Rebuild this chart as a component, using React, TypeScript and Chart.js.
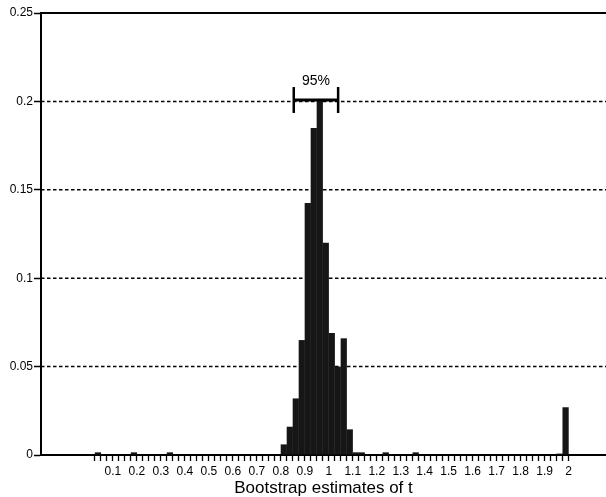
import React, { useEffect, useRef } from 'react';
import { Chart, registerables } from 'chart.js';

Chart.register(...registerables);

// Histogram bins: width 0.025, starting at 0
const binStart = 0;
const binWidth = 0.025;
const frequencies = [
  0, 0.0015, 0, 0, 0, 0, 0, 0.0015, 0, 0, // 0.000 - 0.250
  0, 0, 0, 0.0015, 0, 0, 0, 0, 0, 0, // 0.250 - 0.500
  0, 0, 0, 0, 0, 0, 0, 0, 0, 0, // 0.500 - 0.750
  0, 0, 0.006, 0.016, 0.032, 0.065, 0.1425, 0.185, 0.201, 0.12, // 0.750 - 1.000
  0.069, 0.05, 0.066, 0.0145, 0.0015, 0.0015, 0, 0, 0, 0.0015, // 1.000 - 1.250
  0, 0, 0, 0, 0.0015, 0, 0, 0, 0, 0, // 1.250 - 1.500
  0, 0, 0, 0, 0, 0, 0, 0, 0, 0, // 1.500 - 1.750
  0, 0, 0, 0, 0, 0, 0, 0, 0.0008, 0.027, // 1.750 - 2.000
];

const xTickLabels = ['0.1', '0.2', '0.3', '0.4', '0.5', '0.6', '0.7', '0.8', '0.9', '1',
  '1.1', '1.2', '1.3', '1.4', '1.5', '1.6', '1.7', '1.8', '1.9', '2'];
const yTickValues = [0, 0.05, 0.1, 0.15, 0.2, 0.25];
const yTickLabels = ['0', '0.05', '0.1', '0.15', '0.2', '0.25'];
const dashedGridValues = [0.05, 0.1, 0.15, 0.2];

const ciLower = 0.854;
const ciUpper = 1.039;
const ciLevel = 0.2;
const ciLabel = '95%';

const xTitle = 'Bootstrap estimates of t';

const FONT = '"Liberation Sans", Arial, Helvetica, sans-serif';
const INK = '#000000';

const overlayPlugin = {
  id: 'overlayPlugin',
  beforeDatasetsDraw(chart: any) {
    const { ctx, chartArea, scales } = chart;
    const y = scales.y;
    ctx.save();
    ctx.strokeStyle = INK;
    ctx.lineWidth = 1.5;
    ctx.setLineDash([3.5, 2.5]);
    for (const v of dashedGridValues) {
      const py = y.getPixelForValue(v);
      ctx.beginPath();
      ctx.moveTo(chartArea.left, py);
      ctx.lineTo(chartArea.right, py);
      ctx.stroke();
    }
    ctx.setLineDash([]);
    ctx.lineWidth = 2;
    const pt = y.getPixelForValue(yTickValues[yTickValues.length - 1]);
    ctx.beginPath();
    ctx.moveTo(chartArea.left, pt);
    ctx.lineTo(chartArea.right, pt);
    ctx.stroke();
    ctx.restore();
  },
  afterDatasetsDraw(chart: any) {
    const { ctx, scales } = chart;
    const x = scales.x;
    const y = scales.y;
    const x1 = x.getPixelForValue(ciLower);
    const x2 = x.getPixelForValue(ciUpper);
    const py = y.getPixelForValue(ciLevel) - 1.5;
    ctx.save();
    ctx.strokeStyle = INK;
    ctx.lineWidth = 3;
    ctx.beginPath();
    ctx.moveTo(x1, py);
    ctx.lineTo(x2, py);
    ctx.stroke();
    ctx.lineWidth = 2.5;
    ctx.beginPath();
    ctx.moveTo(x1, py - 13);
    ctx.lineTo(x1, py + 13);
    ctx.moveTo(x2, py - 13);
    ctx.lineTo(x2, py + 13);
    ctx.stroke();
    ctx.fillStyle = INK;
    ctx.font = `14px ${FONT}`;
    ctx.textAlign = 'center';
    ctx.textBaseline = 'alphabetic';
    ctx.fillText(ciLabel, (x1 + x2) / 2, py - 15);
    ctx.restore();
  },
};

export default function App() {
  const canvasRef = useRef<HTMLCanvasElement | null>(null);

  useEffect(() => {
    const canvas = canvasRef.current;
    if (!canvas) return;
    const data = frequencies.map((v, i) => ({ x: binStart + binWidth * (i + 0.5), y: v }));
    const minorTicks = frequencies.map((_, i) => binStart + binWidth * (i + 1));

    const chart = new Chart(canvas, {
      type: 'bar',
      data: {
        datasets: [
          {
            data,
            backgroundColor: '#161616',
            borderWidth: 0,
            barPercentage: 1.04,
            categoryPercentage: 1,
          } as any,
        ],
      },
      options: {
        animation: false,
        responsive: false,
        devicePixelRatio: 1,
        events: [],
        layout: { padding: { top: 13, left: 0, right: 0, bottom: 0 } },
        plugins: {
          legend: { display: false },
          tooltip: { enabled: false },
        },
        scales: {
          x: {
            type: 'linear',
            min: -0.2,
            max: 2.156,
            offset: false,
            afterBuildTicks(scale: any) {
              scale.ticks = minorTicks.map((v) => ({ value: v }));
            },
            afterFit(scale: any) {
              scale.height = 42;
            },
            grid: {
              display: true,
              offset: false,
              drawOnChartArea: false,
              drawTicks: true,
              tickLength: 6,
              tickWidth: 1.3,
              tickColor: INK,
              color: INK,
            },
            border: { display: true, color: INK, width: 2 },
            ticks: {
              autoSkip: false,
              maxRotation: 0,
              minRotation: 0,
              padding: 3,
              color: INK,
              font: { family: FONT, size: 12 },
              callback(value: any) {
                const n = Math.round(Number(value) * 10);
                if (Math.abs(Number(value) * 10 - n) < 1e-6 && n >= 1 && n <= xTickLabels.length) {
                  return xTickLabels[n - 1];
                }
                return '';
              },
            },
            title: {
              display: true,
              text: xTitle,
              color: INK,
              font: { family: FONT, size: 17, lineHeight: 1 },
              padding: { top: 0, bottom: 0 },
            },
          },
          y: {
            type: 'linear',
            min: 0,
            max: 0.25,
            afterBuildTicks(scale: any) {
              scale.ticks = yTickValues.map((v) => ({ value: v }));
            },
            afterFit(scale: any) {
              scale.width = 41;
            },
            grid: {
              display: true,
              drawOnChartArea: false,
              drawTicks: true,
              tickLength: 7,
              tickWidth: 1.5,
              tickColor: INK,
              color: INK,
            },
            border: { display: true, color: INK, width: 2 },
            ticks: {
              padding: 1,
              color: INK,
              font: { family: FONT, size: 12 },
              callback(value: any) {
                const idx = yTickValues.findIndex((t) => Math.abs(t - Number(value)) < 1e-9);
                return idx >= 0 ? yTickLabels[idx] : '';
              },
            },
          },
        },
      } as any,
      plugins: [overlayPlugin],
    });

    return () => {
      chart.destroy();
    };
  }, []);

  return (
    <div style={{ position: 'fixed', left: 0, top: 0, width: 606, height: 497, background: '#fff' }}>
      <canvas ref={canvasRef} width={606} height={497} style={{ display: 'block' }} />
    </div>
  );
}
